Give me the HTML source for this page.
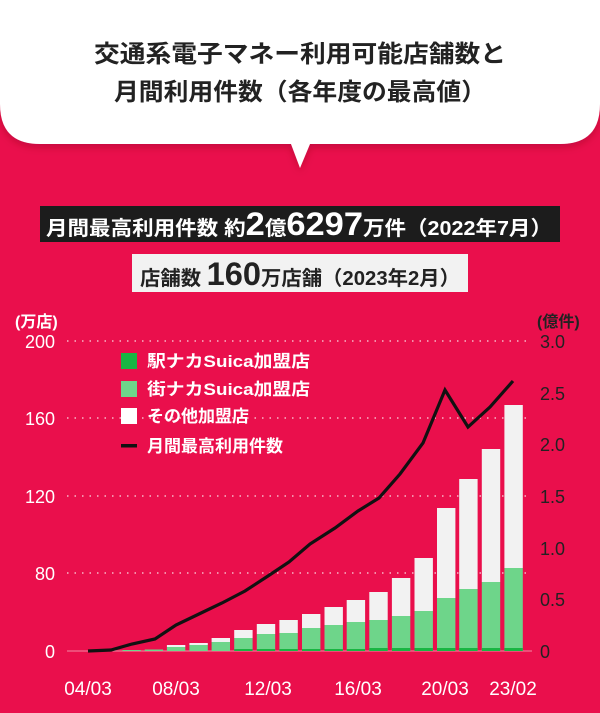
<!DOCTYPE html>
<html><head><meta charset="utf-8"><style>
html,body{margin:0;padding:0;background:#ea0f4c;}
svg{display:block}
text{font-family:"Liberation Sans","Noto Sans CJK JP",sans-serif;}
</style></head><body>
<svg width="600" height="713" viewBox="0 0 600 713" xmlns="http://www.w3.org/2000/svg">
<rect width="600" height="713" fill="#ea0f4c"/>
<defs><filter id="sh" x="-10%" y="-10%" width="120%" height="140%"><feDropShadow dx="0" dy="3" stdDeviation="4" flood-color="#7a0020" flood-opacity="0.35"/></filter></defs>
<g filter="url(#sh)">
<path d="M0,-10 H600 V104 Q600,144 560,144 H310 L300,168 L291,144 H40 Q0,144 0,104 Z" fill="#fff"/>
</g>
<text x="300" y="62" font-size="24" font-weight="bold" text-anchor="middle" fill="#222" textLength="412" lengthAdjust="spacingAndGlyphs">交通系電子マネー利用可能店舗数と</text>
<text x="300" y="100" font-size="24" font-weight="bold" text-anchor="middle" fill="#222" textLength="372" lengthAdjust="spacingAndGlyphs">月間利用件数（各年度の最高値）</text>

<rect x="40" y="206" width="520" height="36" fill="#1c1c1c"/>
<text y="235" fill="#fff" font-weight="bold" textLength="506" lengthAdjust="spacingAndGlyphs" x="46"><tspan font-size="20">月間最高利用件数  約</tspan><tspan font-size="32">2</tspan><tspan font-size="20">億</tspan><tspan font-size="32">6297</tspan><tspan font-size="20">万件（2022年7月）</tspan></text>

<rect x="132" y="254" width="336" height="38" fill="#f2f2f2"/>
<text y="285" fill="#222" font-weight="bold" x="140" textLength="320" lengthAdjust="spacingAndGlyphs"><tspan font-size="20">店舗数  </tspan><tspan font-size="32">160</tspan><tspan font-size="20">万店舗（2023年2月）</tspan></text>

<g stroke="#f8b8c8" stroke-width="1.5" stroke-dasharray="1.5 6">
<line x1="67" y1="341" x2="528" y2="341"/><line x1="67" y1="418" x2="528" y2="418"/>
<line x1="67" y1="496" x2="528" y2="496"/><line x1="67" y1="573" x2="528" y2="573"/>
</g>
<line x1="67" y1="651" x2="532" y2="651" stroke="#f38aa5" stroke-width="1"/>

<g font-size="18" fill="#fff" text-anchor="end">
<text x="55" y="348">200</text><text x="55" y="425">160</text><text x="55" y="503">120</text><text x="55" y="580">80</text><text x="55" y="658">0</text>
</g>
<g font-size="18" fill="#222" text-anchor="start">
<text x="540" y="348">3.0</text><text x="540" y="400">2.5</text><text x="540" y="451">2.0</text><text x="540" y="503">1.5</text><text x="540" y="555">1.0</text><text x="540" y="606">0.5</text><text x="540" y="658">0</text>
</g>
<text x="15" y="327" font-size="16" fill="#fff" font-weight="bold">(万店)</text>
<text x="537" y="327" font-size="16" fill="#222" font-weight="bold">(億件)</text>
<g font-size="19" fill="#fff" text-anchor="middle">
<text x="88" y="695">04/03</text><text x="176" y="695">08/03</text><text x="268" y="695">12/03</text><text x="358" y="695">16/03</text><text x="445" y="695">20/03</text><text x="513" y="695">23/02</text>
</g>

<g id="bars">
<rect x="122.5" y="650" width="18.4" height="1" fill="#6ed58a"/>
<rect x="144.7" y="649.5" width="18.4" height="1.5" fill="#6ed58a"/>
<rect x="166.9" y="645" width="18.4" height="2" fill="#f2f2f2"/><rect x="166.9" y="647" width="18.4" height="4" fill="#6ed58a"/>
<rect x="189.4" y="643" width="18.4" height="2" fill="#f2f2f2"/><rect x="189.4" y="645" width="18.4" height="6" fill="#6ed58a"/>
<rect x="211.6" y="638" width="18.4" height="4" fill="#f2f2f2"/><rect x="211.6" y="642" width="18.4" height="9" fill="#6ed58a"/>
<rect x="234.2" y="630" width="18.4" height="8" fill="#f2f2f2"/><rect x="234.2" y="638" width="18.4" height="13" fill="#6ed58a"/>
<rect x="256.8" y="624" width="18.4" height="10" fill="#f2f2f2"/><rect x="256.8" y="634" width="18.4" height="17" fill="#6ed58a"/>
<rect x="279.4" y="620" width="18.4" height="13" fill="#f2f2f2"/><rect x="279.4" y="633" width="18.4" height="18" fill="#6ed58a"/>
<rect x="302" y="614" width="18.4" height="14" fill="#f2f2f2"/><rect x="302" y="628" width="18.4" height="23" fill="#6ed58a"/>
<rect x="324.5" y="607" width="18.4" height="18" fill="#f2f2f2"/><rect x="324.5" y="625" width="18.4" height="26" fill="#6ed58a"/>
<rect x="346.7" y="600" width="18.4" height="22" fill="#f2f2f2"/><rect x="346.7" y="622" width="18.4" height="29" fill="#6ed58a"/>
<rect x="369.3" y="592" width="18.4" height="28" fill="#f2f2f2"/><rect x="369.3" y="620" width="18.4" height="31" fill="#6ed58a"/>
<rect x="391.9" y="578" width="18.4" height="38" fill="#f2f2f2"/><rect x="391.9" y="616" width="18.4" height="35" fill="#6ed58a"/>
<rect x="414.5" y="558" width="18.4" height="53" fill="#f2f2f2"/><rect x="414.5" y="611" width="18.4" height="40" fill="#6ed58a"/>
<rect x="437" y="508" width="18.4" height="90" fill="#f2f2f2"/><rect x="437" y="598" width="18.4" height="53" fill="#6ed58a"/>
<rect x="459.2" y="479" width="18.4" height="110" fill="#f2f2f2"/><rect x="459.2" y="589" width="18.4" height="62" fill="#6ed58a"/>
<rect x="481.8" y="449" width="18.4" height="133" fill="#f2f2f2"/><rect x="481.8" y="582" width="18.4" height="69" fill="#6ed58a"/>
<rect x="504.4" y="405" width="18.4" height="163" fill="#f2f2f2"/><rect x="504.4" y="568" width="18.4" height="83" fill="#6ed58a"/>
</g>
<g fill="#19b543">
<rect x="234.2" y="649" width="18.4" height="2"/><rect x="256.8" y="649" width="18.4" height="2"/><rect x="279.4" y="649" width="18.4" height="2"/><rect x="302" y="649" width="18.4" height="2"/><rect x="324.5" y="649" width="18.4" height="2"/><rect x="346.7" y="649" width="18.4" height="2"/><rect x="369.3" y="648" width="18.4" height="3"/><rect x="391.9" y="648" width="18.4" height="3"/><rect x="414.5" y="648" width="18.4" height="3"/><rect x="437" y="648" width="18.4" height="3"/><rect x="459.2" y="648" width="18.4" height="3"/><rect x="481.8" y="648" width="18.4" height="3"/><rect x="504.4" y="648" width="18.4" height="3"/>
</g>

<polyline fill="none" stroke="#111" stroke-width="3.2" stroke-linejoin="miter" points="88,651 111,650 132,644 155,639 176,625 199,614 222,603 245,591 268,576 289,562 310,544 335,528 358,511 379,498 400,474 423,443 445,390 468,427 490,407 513,381"/>

<rect x="121" y="353" width="16" height="16" fill="#19b543"/>
<rect x="121" y="381" width="16" height="16" fill="#6ed58a"/>
<rect x="121" y="408" width="16" height="16" fill="#fff"/>
<rect x="121" y="444" width="16" height="3.5" fill="#111"/>
<g font-size="17" fill="#fff" font-weight="bold">
<text x="147" y="367" textLength="163" lengthAdjust="spacingAndGlyphs">駅ナカSuica加盟店</text>
<text x="147" y="395" textLength="163" lengthAdjust="spacingAndGlyphs">街ナカSuica加盟店</text>
<text x="147" y="422">その他加盟店</text>
<text x="147" y="452">月間最高利用件数</text>
</g>
</svg>
</body></html>
